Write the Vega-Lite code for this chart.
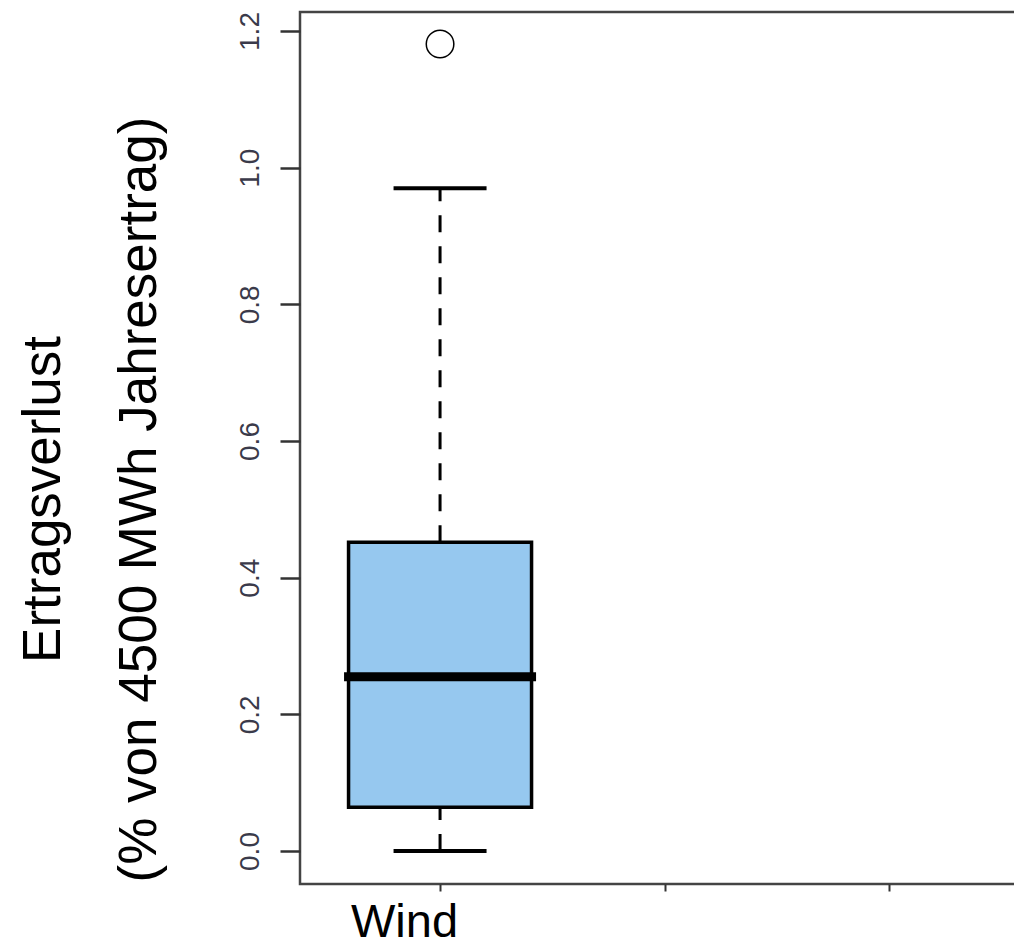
{
  "$schema": "https://vega.github.io/schema/vega-lite/v6.json",
  "autosize": {"type": "none"},
  "width": 729,
  "height": 872,
  "padding": {"left": 300, "top": 12, "right": 0, "bottom": 57},
  "background": "white",
  "config": {
    "view": {"stroke": "#444444", "strokeWidth": 2.5},
    "font": "Liberation Sans"
  },
  "data": {
    "values": [
      {"pos": 1, "group": "Wind", "min": 0.0, "q1": 0.064, "median": 0.255, "q3": 0.452, "max": 0.97, "outlier": 1.181}
    ]
  },
  "encoding": {
    "x": {
      "field": "pos",
      "type": "quantitative",
      "scale": {"domain": [0.376, 3.624], "nice": false, "zero": false, "padding": 0},
      "axis": {
        "title": null,
        "values": [1, 2, 3],
        "labelExpr": "datum.value == 1 ? 'Wind' : ''",
        "grid": false,
        "domain": false,
        "tickSize": 7,
        "tickWidth": 2,
        "tickColor": "#333333",
        "labelFont": "Liberation Sans",
        "labelFontSize": 47,
        "labelColor": "black",
        "labelBaseline": "alphabetic",
        "labelPadding": 45,
        "labelOffset": -36,
        "labelFlush": false
      }
    }
  },
  "layer": [
    {
      "mark": {"type": "rule", "color": "black", "strokeWidth": 3, "strokeDash": [17, 14]},
      "encoding": {
        "y": {
          "field": "q3",
          "type": "quantitative",
          "scale": {"domain": [-0.0483, 1.2278], "nice": false, "zero": false, "padding": 0},
          "axis": {
            "title": ["Ertragsverlust", "(% von 4500 MWh Jahresertrag)"],
            "titleFont": "Liberation Sans",
            "titleFontSize": 53,
            "titleFontWeight": "normal",
            "titleColor": "black",
            "titleAngle": -90,
            "titleAlign": "center",
            "titleBaseline": "alphabetic",
            "titleLineHeight": 96,
            "titleX": -241,
            "titleY": 487,
            "values": [0, 0.2, 0.4, 0.6, 0.8, 1.0, 1.2],
            "format": ".1f",
            "grid": false,
            "domain": false,
            "tickSize": 20,
            "tickWidth": 2.5,
            "tickColor": "#333333",
            "labelFont": "Liberation Sans",
            "labelFontSize": 28,
            "labelColor": "#3a3a4a",
            "labelAngle": -90,
            "labelAlign": "center",
            "labelBaseline": "alphabetic",
            "labelPadding": 22
          }
        },
        "y2": {"field": "max"}
      }
    },
    {
      "mark": {"type": "rule", "color": "black", "strokeWidth": 3, "strokeDash": [17, 14]},
      "encoding": {
        "y": {"field": "min", "type": "quantitative"},
        "y2": {"field": "q1"}
      }
    },
    {
      "mark": {"type": "tick", "orient": "horizontal", "color": "black", "opacity": 1, "size": 93, "thickness": 4},
      "encoding": {"y": {"field": "max", "type": "quantitative"}}
    },
    {
      "mark": {"type": "tick", "orient": "horizontal", "color": "black", "opacity": 1, "size": 93, "thickness": 4},
      "encoding": {"y": {"field": "min", "type": "quantitative"}}
    },
    {
      "mark": {"type": "bar", "width": 183, "fill": "#96C8EF", "stroke": "black", "strokeWidth": 3.5, "opacity": 1, "orient": "vertical"},
      "encoding": {
        "y": {"field": "q1", "type": "quantitative"},
        "y2": {"field": "q3"}
      }
    },
    {
      "mark": {"type": "tick", "orient": "horizontal", "color": "black", "opacity": 1, "size": 192, "thickness": 9},
      "encoding": {"y": {"field": "median", "type": "quantitative"}}
    },
    {
      "mark": {"type": "point", "shape": "circle", "filled": false, "stroke": "black", "strokeWidth": 1.5, "size": 760, "opacity": 1},
      "encoding": {"y": {"field": "outlier", "type": "quantitative"}}
    }
  ]
}
